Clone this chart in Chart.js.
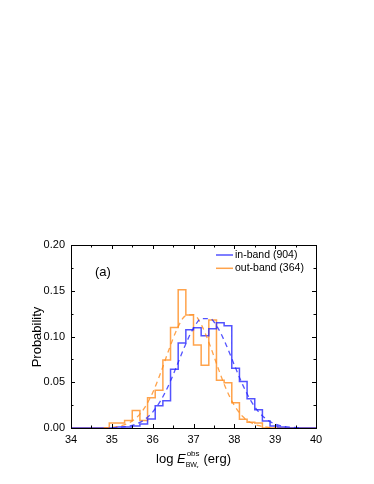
<!DOCTYPE html>
<html>
<head>
<meta charset="utf-8">
<script src="https://cdn.jsdelivr.net/npm/chart.js@4.4.1/dist/chart.umd.min.js"></script>
<style>
  html, body { margin: 0; padding: 0; background: #fff; }
  #grafica { display: block; }
</style>
</head>
<body>
<canvas id="grafica" width="374" height="484"></canvas>
<script>
// bordes de los bins (log E, erg)
const binEdges = [34, 34.1875, 34.375, 34.5625, 34.75, 34.9375, 35.125, 35.3125, 35.5, 35.6875,
  35.875, 36.0625, 36.25, 36.4375, 36.625, 36.8125, 37, 37.1875, 37.375, 37.5625, 37.75,
  37.9375, 38.125, 38.3125, 38.5, 38.6875, 38.875, 39.0625, 39.25, 39.4375, 39.625, 39.8125, 40];

// probabilidad por bin
const inBand = [0, 0, 0, 0, 0, 0, 0.0011, 0.0011, 0.0022, 0.0044, 0.0099, 0.0243, 0.0299, 0.0642,
  0.0929, 0.1073, 0.1095, 0.1007, 0.1084, 0.115, 0.1117, 0.0653, 0.0509, 0.0321, 0.0199, 0.0077,
  0.0022, 0.0011, 0, 0, 0, 0];
const outBand = [0, 0, 0, 0, 0, 0.0055, 0.0055, 0.0082, 0.0192, 0.0082, 0.033, 0.0412, 0.0742,
  0.1099, 0.1511, 0.1236, 0.0907, 0.0687, 0.1181, 0.0522, 0.0495, 0.0275, 0.0095, 0.0062, 0.0055,
  0, 0, 0, 0, 0, 0, 0];

// curvas de ajuste (lineas discontinuas)
const fitInX = [35, 35.2, 35.4, 35.6, 35.8, 36, 36.2, 36.4, 36.6, 36.8, 37, 37.2, 37.4, 37.6,
  37.8, 38, 38.2, 38.4, 38.6, 38.8, 39, 39.2, 39.4, 39.6];
const fitInY = [0.0003, 0.0008, 0.0019, 0.0044, 0.0091, 0.0174, 0.0302, 0.0477, 0.0689, 0.0908,
  0.1091, 0.1196, 0.1196, 0.1091, 0.0908, 0.0689, 0.0477, 0.0302, 0.0174, 0.0091, 0.0044, 0.0019,
  0.0008, 0.0003];
const fitOutX = [34.8, 35, 35.2, 35.4, 35.6, 35.8, 36, 36.2, 36.4, 36.6, 36.8, 37, 37.2, 37.4,
  37.6, 37.8, 38, 38.2, 38.4, 38.6, 38.8, 39];
const fitOutY = [0.0002, 0.0007, 0.0021, 0.0051, 0.0111, 0.0219, 0.0386, 0.0608, 0.0859, 0.1084,
  0.1225, 0.1239, 0.1121, 0.0908, 0.0658, 0.0426, 0.0247, 0.0128, 0.006, 0.0025, 0.0009, 0.0002];

const xTicks = [34, 35, 36, 37, 38, 39, 40];
const yTicks = [0, 0.05, 0.1, 0.15, 0.2];
const legendLabels = ["in-band (904)", "out-band (364)"];
const panelLabel = "(a)";

const AZUL = "rgba(40,40,255,0.8)";
const NARANJA = "rgba(255,140,30,0.8)";
const FUENTE = 'Arial, "Liberation Sans", sans-serif';

function histPuntos(valores) {
  let pts = valores.map((v, i) => ({ x: binEdges[i], y: v }));
  pts.push({ x: binEdges[binEdges.length - 1], y: valores[valores.length - 1] });
  return pts;
}
function curvaPuntos(xs, ys) {
  return xs.map((x, i) => ({ x: x, y: ys[i] }));
}

// marco, ticks hacia dentro, leyenda y titulos
const marcoPlugin = {
  id: "marco",
  afterDraw(chart) {
    const ctx = chart.ctx;
    const a = chart.chartArea;
    const sx = chart.scales.x, sy = chart.scales.y;
    ctx.save();
    ctx.strokeStyle = "#000";
    ctx.lineWidth = 1;
    ctx.strokeRect(Math.round(a.left) + 0.5, Math.round(a.top) + 0.5,
      Math.round(a.right - a.left), Math.round(a.bottom - a.top));

    ctx.beginPath();
    for (let v = 34; v <= 40.001; v += 0.5) {
      const px = Math.round(sx.getPixelForValue(v)) + 0.5;
      const len = Number.isInteger(v) ? 4 : 2.5;
      ctx.moveTo(px, a.bottom); ctx.lineTo(px, a.bottom - len);
      ctx.moveTo(px, a.top); ctx.lineTo(px, a.top + len);
    }
    for (let i = 0; i <= 8; i++) {
      const v = i * 0.025;
      const py = Math.round(sy.getPixelForValue(v)) + 0.5;
      const len = i % 2 === 0 ? 4 : 2.5;
      ctx.moveTo(a.left, py); ctx.lineTo(a.left + len, py);
      ctx.moveTo(a.right, py); ctx.lineTo(a.right - len, py);
    }
    ctx.stroke();

    // leyenda
    ctx.font = "10.5px " + FUENTE;
    ctx.textBaseline = "middle";
    ctx.fillStyle = "#000";
    const colores = [AZUL, NARANJA];
    legendLabels.forEach((t, i) => {
      const y = 255 + i * 13.3;
      ctx.strokeStyle = colores[i];
      ctx.lineWidth = 1.5;
      ctx.beginPath();
      ctx.moveTo(216, y); ctx.lineTo(233, y);
      ctx.stroke();
      ctx.fillText(t, 235, y);
    });

    ctx.font = "13px " + FUENTE;
    ctx.fillText(panelLabel, 95, 272);

    // titulo eje y
    ctx.save();
    ctx.translate(37, 337);
    ctx.rotate(-Math.PI / 2);
    ctx.textAlign = "center";
    ctx.font = "13px " + FUENTE;
    ctx.fillText("Probability", 0, 0);
    ctx.restore();

    // titulo eje x: log E^obs_BW* (erg)
    ctx.textBaseline = "alphabetic";
    const base = 462.5;
    const partes = [
      { t: "log ", f: "13px " + FUENTE },
      { t: "E", f: "italic 13px " + FUENTE }
    ];
    ctx.font = partes[0].f; const w1 = ctx.measureText(partes[0].t).width;
    ctx.font = partes[1].f; const w2 = ctx.measureText(partes[1].t).width;
    ctx.font = "8px " + FUENTE; const wSup = ctx.measureText("obs").width;
    ctx.font = "7px " + FUENTE; const wSub = ctx.measureText("BW").width + 2;
    ctx.font = "13px " + FUENTE; const w4 = ctx.measureText(" (erg)").width;
    const total = w1 + w2 + 1 + Math.max(wSup, wSub) + w4;
    let x = (a.left + a.right) / 2 - total / 2;
    ctx.font = partes[0].f; ctx.fillText(partes[0].t, x, base); x += w1;
    ctx.font = partes[1].f; ctx.fillText(partes[1].t, x, base); x += w2 + 1;
    ctx.font = "8px " + FUENTE; ctx.fillText("obs", x, base - 6.5);
    ctx.font = "7px " + FUENTE; ctx.fillText("BW", x - 1, base + 4);
    ctx.font = "5px " + FUENTE; ctx.fillText("*", x + wSub - 3.5, base + 7);
    x += Math.max(wSup, wSub);
    ctx.font = "13px " + FUENTE; ctx.fillText(" (erg)", x, base);
    ctx.restore();
  }
};

let ctx = document.getElementById("grafica").getContext("2d");
let grafica = new Chart(ctx, {
  type: "line",
  data: {
    datasets: [
      {
        label: "in-band fit", data: curvaPuntos(fitInX, fitInY),
        borderColor: AZUL, borderWidth: 1.3, borderDash: [5, 4],
        pointRadius: 0, tension: 0.4, cubicInterpolationMode: "monotone"
      },
      {
        label: "out-band fit", data: curvaPuntos(fitOutX, fitOutY),
        borderColor: NARANJA, borderWidth: 1.3, borderDash: [5, 4],
        pointRadius: 0, tension: 0.4, cubicInterpolationMode: "monotone"
      },
      {
        label: legendLabels[0], data: histPuntos(inBand),
        borderColor: AZUL, borderWidth: 1.5, stepped: true, pointRadius: 0
      },
      {
        label: legendLabels[1], data: histPuntos(outBand),
        borderColor: NARANJA, borderWidth: 1.5, stepped: true, pointRadius: 0
      }
    ]
  },
  options: {
    responsive: false,
    animation: false,
    devicePixelRatio: 1,
    layout: { padding: { top: 245, right: 58, left: 0, bottom: 0 } },
    plugins: { legend: { display: false }, tooltip: { enabled: false } },
    scales: {
      x: {
        type: "linear", min: 34, max: 40,
        grid: { display: false, drawTicks: false },
        border: { display: false },
        afterFit: s => { s.height = 56; },
        afterBuildTicks: s => { s.ticks = xTicks.map(v => ({ value: v })); },
        ticks: { padding: 5, color: "#000", font: { family: FUENTE, size: 11 } }
      },
      y: {
        type: "linear", min: 0, max: 0.2,
        grid: { display: false, drawTicks: false },
        border: { display: false },
        afterFit: s => { s.width = 71; },
        afterBuildTicks: s => { s.ticks = yTicks.map(v => ({ value: v })); },
        ticks: {
          padding: 6, color: "#000", font: { family: FUENTE, size: 11 },
          callback: v => v.toFixed(2)
        }
      }
    }
  },
  plugins: [marcoPlugin]
});
</script>
</body>
</html>
